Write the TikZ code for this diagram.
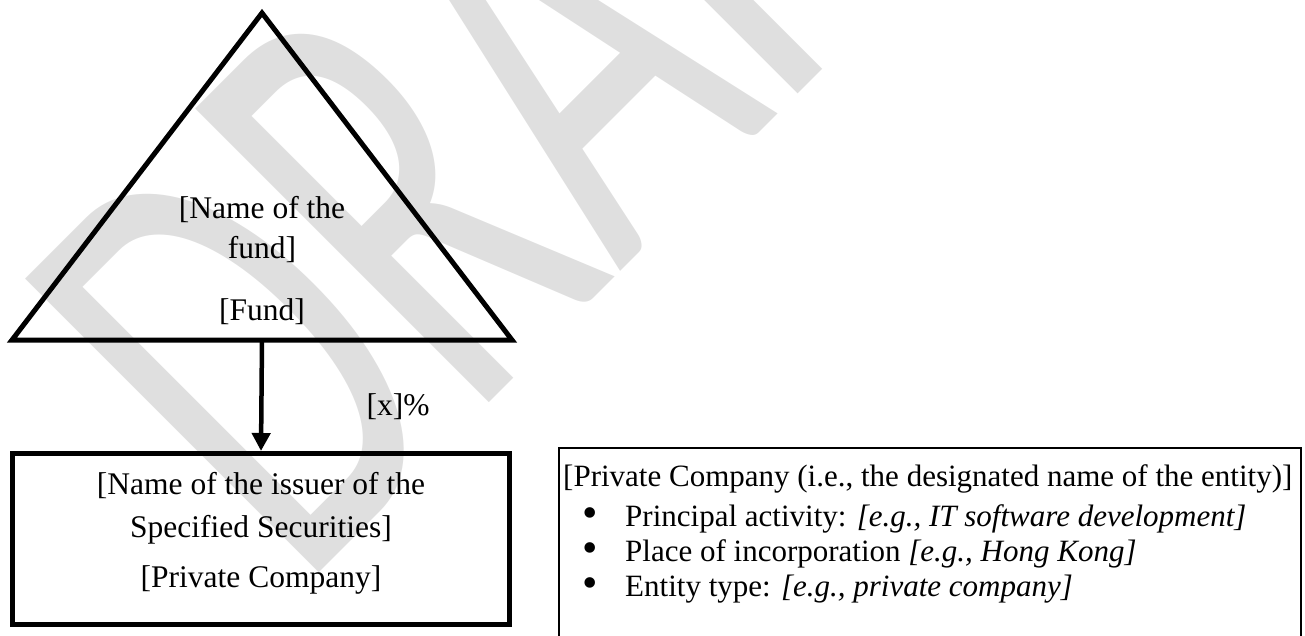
\documentclass[tikz,border=0pt]{standalone}
\usepackage{fontspec}
\setmainfont{Liberation Serif}
\newfontfamily\wmfont{Carlito}
\usetikzlibrary{arrows.meta}

\definecolor{wmgray}{HTML}{DFDFDF}

\tikzset{
  thickline/.style={line width=5pt},
  fundtext/.style={font=\fontsize{31.5}{40}\selectfont, align=center, inner sep=0pt},
  issuertext/.style={font=\fontsize{31.5}{43}\selectfont, align=center, inner sep=0pt},
  infotext/.style={font=\fontsize{31}{35}\selectfont, inner sep=0pt, anchor=west},
}
\newcommand{\bulletmark}{\makebox[43pt][l]{\raisebox{-1pt}{\fontsize{44}{44}\selectfont\textbullet}}}

\begin{document}
\begin{tikzpicture}[x=1pt,y=-1pt]
    \useasboundingbox (0,0) rectangle (1305,635);

    % watermark
    \begin{scope}[shift={(300,592)}, rotate=45, yscale=1.66, transform shape]
        \node[font=\wmfont\fontsize{390}{390}\selectfont, text=wmgray,
              anchor=base west, inner sep=0pt] (draft) at (0,0) {DRAFT};
    \end{scope}

    % Fund
    \coordinate (apex) at (262,13);
    \coordinate (baseleft) at (12,340);
    \coordinate (baseright) at (512,340);
    \coordinate (fundbase) at (262,340);
    \draw[thickline, line join=miter] (apex) -- (baseright) -- (baseleft) -- cycle;
    \node[fundtext] (fundname) at (262,230) {[Name of the\\fund]};
    \node[fundtext] (fundtag) at (262,312) {[Fund]};

    % Issuer
    \node[draw, thickline, minimum width=497pt, minimum height=171pt] (issuer) at (261,539) {};
    \node[issuertext] (issuername) at (261,533) {[Name of the issuer of the\\Specified Securities]\\[7pt][Private Company]};
    \draw[line width=4.5pt, -{Triangle[width=18pt,length=18pt]}] (fundbase) -- (issuer.north);
    \node[fundtext] (share) at (398,407) {[x]\%};

    % Private company details
    \node[draw, line width=1.5pt, minimum width=742pt, minimum height=240pt,
          anchor=north west] (profile) at (558,447) {};
    \node[infotext] (profhead) at (563,479) {[Private Company (i.e., the designated name of the entity)]};
    \node[infotext] (activity) at (582,519) {\bulletmark Principal activity: \textit{[e.g., IT software development]}};
    \node[infotext] (place) at (582,554) {\bulletmark Place of incorporation \textit{[e.g., Hong Kong]}};
    \node[infotext] (type) at (582,589) {\bulletmark Entity type: \textit{[e.g., private company]}};
\end{tikzpicture}
\end{document}
